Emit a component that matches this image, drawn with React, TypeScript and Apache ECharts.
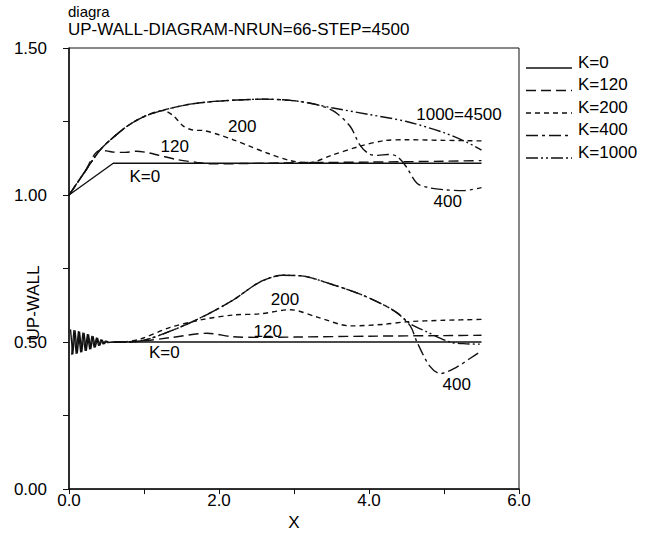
import React, { useEffect, useRef } from "react";
import * as echarts from "echarts";

const TITLE_1 = "diagra";
const TITLE_2 = "UP-WALL-DIAGRAM-NRUN=66-STEP=4500";
const Y_NAME = "UP-WALL";
const X_NAME = "X";
const LEGEND_NAMES = ["K=0", "K=120", "K=200", "K=400", "K=1000"];

// upper family (starting at 1.00)
const K0_UPPER = [[0, 1.0], [0.59, 1.108], [5.5, 1.108]];
const K120_UPPER = [[0, 1.0], [0.2, 1.075], [0.41, 1.152], [0.5, 1.15], [0.6, 1.146], [0.75, 1.145], [0.9, 1.149], [1.05, 1.144], [1.2, 1.135], [1.45, 1.12], [1.7, 1.111], [1.9, 1.106], [2.3, 1.107], [3.0, 1.11], [4.0, 1.112], [5.0, 1.115], [5.5, 1.117]];
const K200_UPPER = [[0, 1.0], [0.2, 1.075], [0.41, 1.152], [0.55, 1.187], [0.77, 1.233], [1.0, 1.267], [1.25, 1.287], [1.39, 1.27], [1.52, 1.235], [1.65, 1.221], [1.8, 1.219], [2.0, 1.205], [2.2, 1.187], [2.4, 1.167], [2.64, 1.143], [2.95, 1.117], [3.2, 1.11], [3.5, 1.135], [3.88, 1.166], [4.2, 1.185], [4.5, 1.188], [5.0, 1.186], [5.5, 1.184]];
const K400_UPPER = [[0, 1.0], [0.2, 1.075], [0.41, 1.152], [0.55, 1.187], [0.77, 1.233], [1.0, 1.267], [1.25, 1.288], [1.57, 1.307], [1.88, 1.317], [2.24, 1.323], [2.6, 1.326], [2.95, 1.322], [3.2, 1.313], [3.4, 1.3], [3.55, 1.282], [3.75, 1.233], [3.88, 1.17], [4.0, 1.14], [4.12, 1.135], [4.25, 1.138], [4.37, 1.132], [4.5, 1.095], [4.64, 1.04], [4.8, 1.025], [5.0, 1.018], [5.25, 1.015], [5.5, 1.025]];
const K1000_UPPER = [[0, 1.0], [0.2, 1.075], [0.41, 1.152], [0.55, 1.187], [0.77, 1.233], [1.0, 1.267], [1.25, 1.288], [1.57, 1.307], [1.88, 1.317], [2.24, 1.323], [2.6, 1.326], [2.95, 1.322], [3.2, 1.313], [3.5, 1.297], [4.0, 1.274], [4.5, 1.25], [5.0, 1.212], [5.3, 1.18], [5.5, 1.153]];

// lower family (around 0.50)
const K0_LOWER = [[0.02, 0.543], [0.05, 0.458], [0.08, 0.54], [0.11, 0.461], [0.14, 0.536], [0.17, 0.466], [0.2, 0.531], [0.23, 0.47], [0.26, 0.526], [0.29, 0.476], [0.32, 0.52], [0.35, 0.482], [0.38, 0.514], [0.41, 0.488], [0.44, 0.508], [0.47, 0.494], [0.5, 0.503], [0.53, 0.499], [0.6, 0.5], [5.5, 0.5]];
const K0_LOWER_B = [[0.035, 0.457], [0.065, 0.541], [0.095, 0.46], [0.125, 0.537], [0.155, 0.465], [0.185, 0.532], [0.215, 0.47], [0.245, 0.527], [0.275, 0.475], [0.305, 0.521], [0.335, 0.481], [0.365, 0.515], [0.395, 0.487], [0.425, 0.509], [0.455, 0.493], [0.485, 0.504], [0.515, 0.498], [0.6, 0.5]];
const K120_LOWER = [[0.6, 0.5], [0.95, 0.503], [1.35, 0.515], [1.84, 0.53], [2.19, 0.518], [2.55, 0.516], [3.0, 0.517], [4.0, 0.52], [5.0, 0.522], [5.5, 0.523]];
const K200_LOWER = [[0.6, 0.5], [0.75, 0.501], [0.95, 0.51], [1.35, 0.55], [1.79, 0.577], [2.19, 0.592], [2.55, 0.596], [2.95, 0.61], [3.31, 0.585], [3.75, 0.555], [4.19, 0.56], [4.5, 0.569], [5.0, 0.574], [5.5, 0.577]];
const K400_LOWER = [[0.6, 0.5], [0.75, 0.5], [0.95, 0.503], [1.35, 0.537], [1.79, 0.587], [2.19, 0.643], [2.55, 0.705], [2.85, 0.727], [3.1, 0.725], [3.52, 0.695], [3.88, 0.663], [4.19, 0.627], [4.37, 0.6], [4.55, 0.555], [4.64, 0.5], [4.81, 0.418], [4.95, 0.393], [5.17, 0.415], [5.35, 0.445], [5.5, 0.47]];
const K1000_LOWER = [[0.6, 0.5], [0.75, 0.5], [0.95, 0.503], [1.35, 0.537], [1.79, 0.587], [2.19, 0.643], [2.55, 0.705], [2.85, 0.727], [3.1, 0.725], [3.52, 0.695], [3.88, 0.663], [4.19, 0.627], [4.37, 0.6], [4.55, 0.562], [4.77, 0.535], [5.08, 0.5], [5.3, 0.494], [5.5, 0.493]];

const ANNOTATIONS = [
  { text: "K=0", x: 1.01, y: 1.077 },
  { text: "120", x: 1.41, y: 1.177 },
  { text: "200", x: 2.31, y: 1.247 },
  { text: "1000=4500", x: 5.2, y: 1.287 },
  { text: "400", x: 5.05, y: 0.993 },
  { text: "K=0", x: 1.27, y: 0.477 },
  { text: "120", x: 2.65, y: 0.55 },
  { text: "200", x: 2.88, y: 0.66 },
  { text: "400", x: 5.17, y: 0.37 },
];

const FONT = "Liberation Sans, Arial, Helvetica, sans-serif";
const INK = "#111";
const DASHES: any[] = ["solid", [10, 5], [5, 4], [12, 4, 3, 4], [12, 3, 2, 3, 2, 3]];

export default function App() {
  const ref = useRef<HTMLDivElement>(null);
  useEffect(() => {
    if (!ref.current) return;
    const chart = echarts.init(ref.current, undefined, { renderer: "svg" });

    const families = [
      [K0_UPPER, K0_LOWER],
      [K120_UPPER, K120_LOWER],
      [K200_UPPER, K200_LOWER],
      [K400_UPPER, K400_LOWER],
      [K1000_UPPER, K1000_LOWER],
    ];
    const series: any[] = [];
    families.forEach((fam, i) => {
      fam.forEach((data) => {
        series.push({
          type: "line",
          name: LEGEND_NAMES[i],
          data,
          symbol: "none",
          smooth: i === 0 ? false : 0.3,
          lineStyle: { color: INK, width: 1.4, type: DASHES[i] },
          silent: true,
        });
      });
    });
    series.push({
      type: "line",
      name: LEGEND_NAMES[0],
      data: K0_LOWER_B,
      symbol: "none",
      lineStyle: { color: INK, width: 1.2, type: "solid" },
      silent: true,
    });
    series.push({
      type: "scatter",
      name: "annotations",
      symbolSize: 0,
      silent: true,
      itemStyle: { opacity: 1 },
      data: ANNOTATIONS.map((a) => ({ value: [a.x, a.y], name: a.text })),
      label: {
        show: true,
        position: "inside",
        offset: [0, 4],
        formatter: (p: any) => p.name,
        color: "#000",
        opacity: 1,
        fontFamily: FONT,
        fontSize: 17,
      },
    });

    const legendItems: any[] = [];
    LEGEND_NAMES.forEach((n, i) => {
      const ly = 68 + i * 22.5;
      legendItems.push({
        type: "line",
        shape: { x1: 526, y1: ly, x2: 572, y2: ly },
        style: {
          stroke: INK,
          lineWidth: 1.3,
          lineDash: DASHES[i] === "solid" ? null : DASHES[i],
        },
      });
      legendItems.push({
        type: "text",
        x: 578,
        y: ly - 6,
        style: { text: n, fill: "#000", font: `17px ${FONT}`, verticalAlign: "middle", align: "left" },
      });
    });

    chart.setOption({
      animation: false,
      backgroundColor: "#fff",
      grid: { left: 69, top: 48, width: 450, height: 450, show: true, borderColor: INK, borderWidth: 1 },
      xAxis: {
        type: "value",
        min: 0,
        max: 6,
        interval: 1,
        name: X_NAME,
        nameLocation: "middle",
        nameGap: 24,
        nameTextStyle: { color: "#000", fontFamily: FONT, fontSize: 17 },
        axisLine: { lineStyle: { color: INK, width: 1.5 } },
        axisTick: { show: true, length: 5, lineStyle: { color: INK } },
        splitLine: { show: false },
        axisLabel: {
          color: "#000",
          fontFamily: FONT,
          fontSize: 17,
          margin: 3,
          formatter: (v: number) => (Math.round(v) % 2 === 0 ? v.toFixed(1) : ""),
        },
      },
      yAxis: {
        type: "value",
        min: 0,
        max: 1.5,
        interval: 0.25,
        axisLine: { show: true, lineStyle: { color: INK, width: 1.5 } },
        axisTick: { show: true, length: 6, lineStyle: { color: INK } },
        splitLine: { show: false },
        axisLabel: {
          color: "#000",
          fontFamily: FONT,
          fontSize: 17,
          margin: 22,
          padding: [0, 0, 4, 0],
          formatter: (v: number) =>
            Math.abs(v * 2 - Math.round(v * 2)) < 1e-6 ? v.toFixed(2) : "",
        },
      },
      graphic: [
        {
          type: "text",
          left: 68,
          top: 4,
          style: { text: TITLE_1, fill: "#000", font: `15px ${FONT}` },
        },
        {
          type: "text",
          left: 68,
          top: 21,
          style: { text: TITLE_2, fill: "#000", font: `17px ${FONT}` },
        },
        {
          type: "text",
          x: 33,
          y: 303,
          rotation: Math.PI / 2,
          style: { text: Y_NAME, fill: "#000", font: `17px ${FONT}`, align: "center", verticalAlign: "middle" },
        },
        ...legendItems,
      ],
      series,
    });
    return () => chart.dispose();
  }, []);
  return (
    <div
      ref={ref}
      style={{ position: "fixed", left: 0, top: 0, width: 654, height: 536, background: "#fff" }}
    />
  );
}
